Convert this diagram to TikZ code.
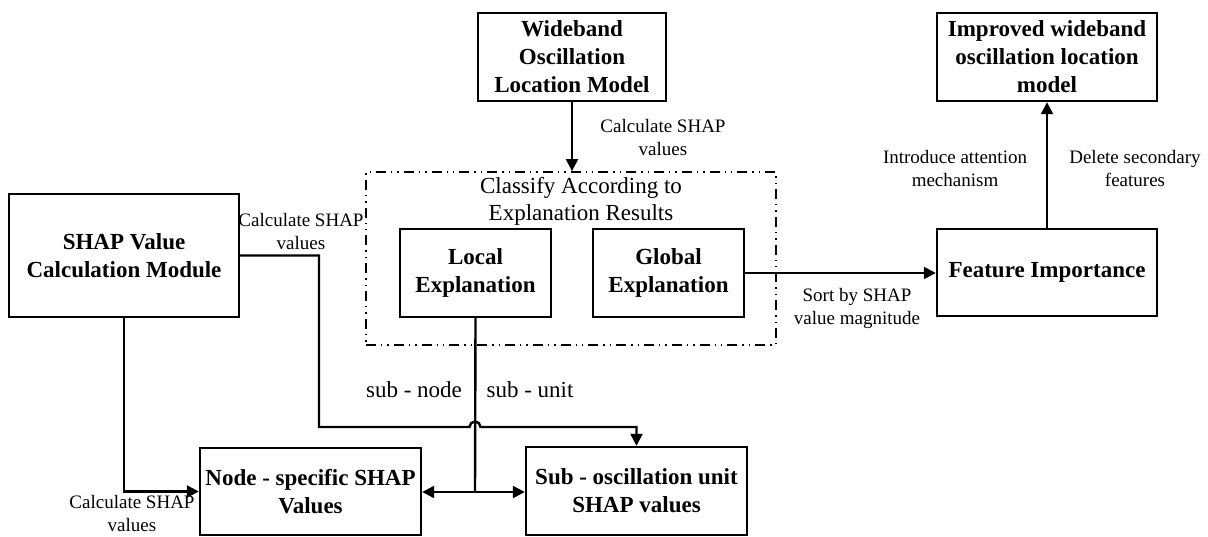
\documentclass[tikz,border=0pt]{standalone}
\usepackage{fontspec}
\setmainfont{Liberation Serif}
\usetikzlibrary{arrows.meta}
\begin{document}
\begin{tikzpicture}[x=0.5pt, y=-0.5pt,
  box/.style={draw, line width=1.2pt, align=center, inner sep=0pt, font=\fontsize{11.5}{14}\selectfont\bfseries},
  lbl/.style={align=center, font=\fontsize{9.5}{11.5}\selectfont},
  arr/.style={-{Triangle[length=6pt,width=6pt]}, line width=1.2pt}]
\useasboundingbox (0,0) rectangle (1208,536);
% boxes
\node[box, minimum width=94pt, minimum height=44pt] (wide) at (572,57) {Wideband\\Oscillation\\Location Model};
\node[box, minimum width=115pt, minimum height=61.5pt] (shapmod) at (124,255.5) {SHAP Value\\Calculation Module};
\node[draw, line width=0.9pt, dash pattern=on 5pt off 2.5pt on 0.7pt off 2.5pt on 0.7pt off 2.5pt,
  minimum width=205pt, minimum height=86.5pt] (frame) at (571,258.5) {};
\node[align=center, font=\fontsize{11.5}{13.5}\selectfont] (cls) at (581,201) {Classify According to\\Explanation Results};
\node[box, minimum width=75.5pt, minimum height=44pt] (local) at (475.5,273) {Local\\Explanation};
\node[box, minimum width=75.5pt, minimum height=44pt] (global) at (668.5,273) {Global\\Explanation};
\node[box, minimum width=110pt, minimum height=43.5pt] (feat) at (1047,272.5) {Feature Importance};
\node[box, minimum width=110pt, minimum height=44pt] (impr) at (1047,57) {Improved wideband\\oscillation location\\model};
\node[box, minimum width=110.5pt, minimum height=43.5pt] (nodeval) at (310.5,491.5) {Node - specific SHAP\\Values};
\node[box, minimum width=110.5pt, minimum height=44pt] (subval) at (636.5,491) {Sub - oscillation unit\\SHAP values};
% connectors
\draw[arr] (wide.south) -- (wide.south |- frame.north);
\draw[arr] (global.east) -- (feat.west |- global.east);
\draw[arr] (feat.north) -- (impr.south);
\draw[arr] (shapmod.south) |- (nodeval.west);
\coordinate (hop) at (475,427);
\draw[arr] (shapmod.east) -| (319,427) -- ([xshift=-2.75pt]hop)
  arc[start angle=180, end angle=0, radius=2.75pt] -| (subval.north);
\coordinate (split) at (475,492);
\draw[line width=1.2pt] (local.south) -- (split);
\draw[arr] (split) -- (nodeval.east |- split);
\draw[arr] (split) -- (subval.west |- split);
% labels
\node[lbl] (l1) at (663,137) {Calculate SHAP\\values};
\node[lbl] (l2) at (301,231) {Calculate SHAP\\values};
\node[lbl] (l3) at (132,513) {Calculate SHAP\\values};
\node[lbl] (l4) at (857,308) {Sort by SHAP\\value magnitude};
\node[lbl] (l5) at (955,168) {Introduce attention\\mechanism};
\node[lbl] (l6) at (1135,168) {Delete secondary\\features};
\node[font=\fontsize{11.5}{13.5}\selectfont] (sn) at (414,390) {sub - node};
\node[font=\fontsize{11.5}{13.5}\selectfont] (su) at (530,390) {sub - unit};
\end{tikzpicture}
\end{document}
